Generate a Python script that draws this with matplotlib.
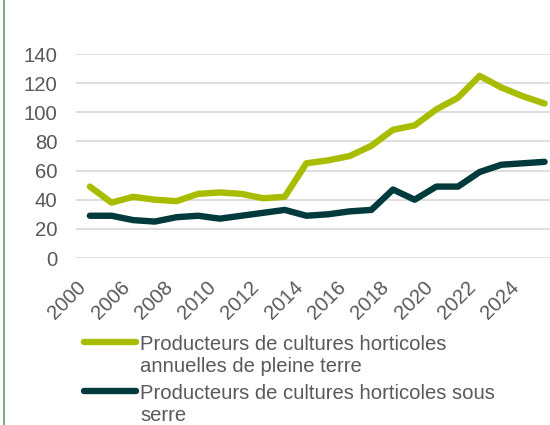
import matplotlib
matplotlib.use('Agg')
import matplotlib.pyplot as plt
from matplotlib.lines import Line2D

plt.rcParams['font.family'] = ['Liberation Sans', 'DejaVu Sans']

# données
annees = ['2000'] + [str(a) for a in range(2005, 2026)]
pleine_terre = [49, 38, 42, 40, 39, 44, 45, 44, 41, 42, 65, 67, 70, 77, 88, 91,
                102, 110, 125, 117, 111, 106]
sous_serre = [29, 29, 26, 25, 28, 29, 27, 29, 31, 33, 29, 30, 32, 33, 47, 40,
              49, 49, 59, 64, 65, 66]
noms = ['Producteurs de cultures horticoles\nannuelles de pleine terre',
        'Producteurs de cultures horticoles sous\nserre']
couleurs = ['#A9BD00', '#003A3C']

fig = plt.figure(figsize=(5.5, 4.25), dpi=100)
ax = fig.add_axes([76 / 550, 1 - 258 / 425, 1 - 76 / 550, 204 / 425])

x = list(range(len(annees)))
for y, c in zip([pleine_terre, sous_serre], couleurs):
    ax.plot(x, y, color=c, lw=4.6, solid_capstyle='round',
            solid_joinstyle='round', clip_on=False, zorder=3)

ax.set_ylim(0, 140)
ax.set_yticks(range(0, 141, 20))
ax.set_xlim(-0.64, 21.25)
ax.set_xticks(x[::2])
ax.set_xticklabels(annees[::2], rotation=45, ha='right', va='top')
ax.tick_params(axis='both', length=0, labelsize=14.6, colors='#595959')
ax.tick_params(axis='y', pad=13.5)
ax.tick_params(axis='x', pad=14)
ax.grid(axis='y', color='#D9D9D9', lw=1.2)
ax.set_axisbelow(True)
for s in ax.spines.values():
    s.set_visible(False)

# légende
for i, (nom, c) in enumerate(zip(noms, couleurs)):
    yl = 1 - (342 + i * 49) / 425
    fig.add_artist(Line2D([84 / 550, 136 / 550], [yl, yl], color=c, lw=4.6,
                          solid_capstyle='round'))
    fig.text(140 / 550, yl + 7 / 425, nom, fontsize=14.6, color='#595959',
             va='top', ha='left', linespacing=1.2)

# bordure gauche
fig.add_artist(Line2D([3.5 / 550, 3.5 / 550], [0, 1], color='#5E9F6A', lw=1.2))

fig.savefig('out.png', dpi=100)
